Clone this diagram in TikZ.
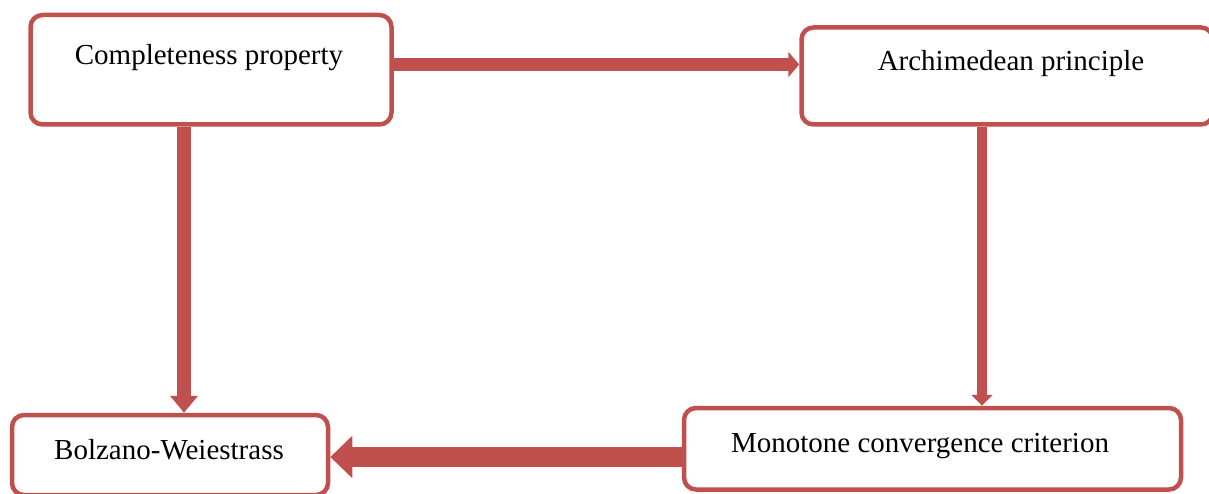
\documentclass[tikz,border=0pt]{standalone}
\usepackage{fontspec}
\setmainfont{Liberation Serif}
\usetikzlibrary{arrows.meta}
\definecolor{accent}{HTML}{C0504D}
\begin{document}
\begin{tikzpicture}[x=1pt, y=-1pt,
  stepbox/.style={draw=accent, line width=4.5pt, rounded corners=12pt,
    fill=white, inner sep=0pt},
  label/.style={anchor=base, inner sep=0pt,
    font=\fontsize{29}{34}\selectfont},
  link/.style={draw=accent, line cap=butt}
]
\useasboundingbox (0,0) rectangle (1209,494);
\clip (0,0) rectangle (1209,494);

% boxes
\node[stepbox, minimum width=361pt, minimum height=109.5pt] (cp) at (211,69.75) {};
\node[stepbox, minimum width=411.5pt, minimum height=97pt] (ap) at (1007.25,76) {};
\node[stepbox, minimum width=497pt, minimum height=81.5pt] (mcc) at (932.5,448.75) {};
\node[stepbox, minimum width=316pt, minimum height=80pt] (bw) at (170,455) {};

% texts
\node[label] (cpt) at (209,65) {Completeness property};
\node[label] (apt) at (1011,71) {Archimedean principle};
\node[label] (mcct) at (920,452) {Monotone convergence criterion};
\node[label] (bwt) at (169,459) {Bolzano-Weiestrass};

% guide coordinates for the connectors
\coordinate (r1) at (0,64.5);
\coordinate (c1) at (184,0);
\coordinate (c2) at (982,0);
\coordinate (r2) at (0,457);

% connectors
\draw[link, line width=12.5pt, -{Triangle[length=11pt,width=25pt]}]
  (cp.east |- r1) -- (ap.west |- r1);
\draw[link, line width=13.5pt, -{Triangle[length=17pt,width=27pt]}]
  (c1 |- cp.south) -- (c1 |- bw.north);
\draw[link, line width=10.5pt, -{Triangle[length=11pt,width=21pt]}]
  (c2 |- ap.south) -- (c2 |- mcc.north);
\draw[link, line width=20pt, -{Triangle[length=22pt,width=41pt]}]
  (mcc.west |- r2) -- (bw.east |- r2);
\end{tikzpicture}
\end{document}
